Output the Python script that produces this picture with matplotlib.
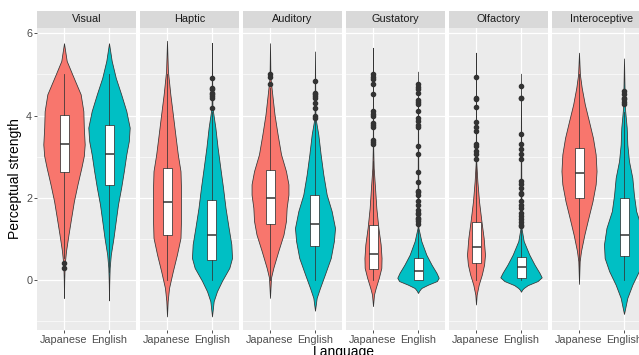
import matplotlib
matplotlib.use("Agg")
import matplotlib.pyplot as plt
from matplotlib.patches import Rectangle

plt.rcParams["font.family"] = ["Liberation Sans", "DejaVu Sans"]

modalities = ["Visual", "Haptic", "Auditory", "Gustatory", "Olfactory", "Interoceptive"]
languages = ["Japanese", "English"]
language_colors = ["#F8766D", "#00BFC4"]
y_ticks = [0, 2, 4, 6]
y_minor_ticks = [-1, 1, 3, 5]

# Violin outlines: strength levels (bottom to top) and half-widths in category units
visual_ja_y = [-0.43, -0.02, 0.38, 0.71, 1.11, 1.52, 1.92, 2.33, 2.73, 3.02, 3.30, 3.71, 4.11, 4.52, 5.00, 5.33, 5.76]
visual_ja_w = [0, 0.005, 0.015, 0.045, 0.10, 0.16, 0.22, 0.30, 0.385, 0.44, 0.46, 0.44, 0.43, 0.37, 0.185, 0.06, 0]
visual_en_y = [-0.49, -0.10, 0.30, 0.62, 1.03, 1.44, 1.84, 2.25, 2.65, 3.06, 3.38, 3.71, 4.11, 4.52, 4.92, 5.33, 5.76]
visual_en_w = [0, 0.005, 0.015, 0.04, 0.10, 0.15, 0.20, 0.27, 0.33, 0.385, 0.44, 0.46, 0.385, 0.27, 0.15, 0.06, 0]

haptic_ja_y = [-0.88, -0.51, -0.19, 0.22, 0.62, 1.03, 1.44, 1.84, 2.25, 2.65, 3.06, 3.54, 4.03, 4.52, 5.09, 5.82]
haptic_ja_w = [0, 0.015, 0.045, 0.13, 0.22, 0.30, 0.31, 0.31, 0.31, 0.30, 0.24, 0.185, 0.13, 0.074, 0.02, 0]
haptic_en_y = [-0.88, -0.51, -0.27, -0.02, 0.30, 0.54, 0.87, 1.27, 1.76, 2.25, 2.73, 3.22, 3.71, 4.19, 4.90, 5.77]
haptic_en_w = [0, 0.037, 0.11, 0.22, 0.385, 0.445, 0.43, 0.37, 0.30, 0.245, 0.185, 0.125, 0.075, 0.01, 0.004, 0]

auditory_ja_y = [-0.43, 0.06, 0.30, 0.71, 1.11, 1.44, 1.76, 2.08, 2.33, 2.65, 3.06, 3.54, 4.03, 4.52, 4.92, 5.76]
auditory_ja_w = [0, 0.022, 0.074, 0.185, 0.30, 0.355, 0.37, 0.41, 0.41, 0.355, 0.245, 0.17, 0.10, 0.05, 0.01, 0]
auditory_en_y = [-0.74, -0.43, -0.19, 0.14, 0.54, 0.95, 1.27, 1.68, 2.08, 2.57, 3.06, 3.54, 3.95, 5.56]
auditory_en_w = [0, 0.037, 0.11, 0.22, 0.35, 0.42, 0.445, 0.37, 0.26, 0.185, 0.125, 0.074, 0.01, 0]

gustatory_ja_y = [-0.63, -0.35, -0.19, 0.06, 0.30, 0.54, 0.87, 1.27, 1.76, 2.25, 2.73, 3.22, 5.65]
gustatory_ja_w = [0, 0.022, 0.06, 0.13, 0.185, 0.19, 0.17, 0.12, 0.074, 0.045, 0.015, 0.005, 0]
gustatory_en_y = [-0.31, -0.25, -0.19, -0.11, -0.02, 0.06, 0.18, 0.38, 0.62, 0.95, 1.27, 5.07]
gustatory_en_w = [0, 0.03, 0.074, 0.22, 0.42, 0.46, 0.41, 0.30, 0.185, 0.074, 0.01, 0]

olfactory_ja_y = [-0.59, -0.35, -0.11, 0.14, 0.38, 0.62, 1.03, 1.44, 1.92, 2.41, 2.90, 5.53]
olfactory_ja_w = [0, 0.015, 0.06, 0.13, 0.18, 0.20, 0.17, 0.12, 0.067, 0.03, 0.005, 0]
olfactory_en_y = [-0.28, -0.23, -0.19, -0.12, -0.02, 0.07, 0.18, 0.38, 0.62, 0.95, 1.27, 5.02]
olfactory_en_w = [0, 0.025, 0.06, 0.15, 0.37, 0.46, 0.41, 0.30, 0.185, 0.06, 0.01, 0]

interoceptive_ja_y = [-0.09, 0.46, 0.71, 1.11, 1.52, 1.92, 2.33, 2.65, 3.06, 3.46, 3.87, 4.27, 4.68, 5.00, 5.53]
interoceptive_ja_w = [0, 0.015, 0.045, 0.12, 0.21, 0.30, 0.37, 0.39, 0.37, 0.31, 0.22, 0.13, 0.06, 0.02, 0]
interoceptive_en_y = [-0.82, -0.43, -0.11, 0.22, 0.54, 0.87, 1.27, 1.68, 2.08, 2.49, 2.90, 3.30, 3.71, 4.19, 5.39]
interoceptive_en_w = [0, 0.074, 0.185, 0.33, 0.43, 0.445, 0.39, 0.27, 0.22, 0.185, 0.11, 0.074, 0.06, 0.02, 0]

# Box summaries: [lower whisker, Q1, median, Q3, upper whisker]
visual_ja_box = [0.55, 2.63, 3.32, 4.01, 5.00]
visual_en_box = [0.20, 2.32, 3.07, 3.77, 5.00]
haptic_ja_box = [0.00, 1.09, 1.91, 2.73, 5.00]
haptic_en_box = [0.00, 0.48, 1.10, 1.95, 4.10]
auditory_ja_box = [0.00, 1.37, 2.00, 2.69, 4.67]
auditory_en_box = [0.00, 0.83, 1.37, 2.07, 3.90]
gustatory_ja_box = [0.00, 0.28, 0.64, 1.35, 2.90]
gustatory_en_box = [0.00, 0.00, 0.235, 0.54, 1.30]
olfactory_ja_box = [0.00, 0.41, 0.80, 1.41, 2.90]
olfactory_en_box = [0.00, 0.06, 0.32, 0.56, 1.28]
interoceptive_ja_box = [0.20, 2.00, 2.61, 3.22, 5.00]
interoceptive_en_box = [0.00, 0.58, 1.11, 2.00, 4.10]

# Outlying words
visual_ja_out = [0.30, 0.41]
visual_en_out = []
haptic_ja_out = []
haptic_en_out = [4.19, 4.44, 4.48, 4.52, 4.56, 4.64, 4.68, 4.91]
auditory_ja_out = [4.76, 4.93, 5.00]
auditory_en_out = [3.95, 3.99, 4.19, 4.31, 4.44, 4.48, 4.52, 4.56, 4.83]
gustatory_ja_out = [3.30, 3.36, 3.42, 3.72, 3.77, 3.83, 3.99, 4.05, 4.11, 4.52, 4.76, 4.88, 4.94, 5.00]
gustatory_en_out = [1.37, 1.44, 1.48, 1.52, 1.60, 1.64, 1.70, 1.84, 1.92, 2.08, 2.15, 2.18, 2.39, 2.64,
                    3.07, 3.26, 3.72, 3.77, 3.87, 3.95, 4.11, 4.29, 4.34, 4.37, 4.56, 4.64, 4.70, 4.76]
olfactory_ja_out = [2.94, 3.06, 3.14, 3.26, 3.32, 3.62, 3.72, 3.84, 4.22, 4.40, 4.44, 4.95]
olfactory_en_out = [1.31, 1.35, 1.41, 1.48, 1.56, 1.64, 1.76, 1.84, 1.92, 2.10, 2.12, 2.25, 2.33, 2.42,
                    2.94, 3.07, 3.18, 3.30, 3.56, 4.42, 4.44, 4.72]
interoceptive_ja_out = []
interoceptive_en_out = [4.29, 4.34, 4.40, 4.44, 4.52, 4.60]

violins = {
    "Visual": [(visual_ja_y, visual_ja_w), (visual_en_y, visual_en_w)],
    "Haptic": [(haptic_ja_y, haptic_ja_w), (haptic_en_y, haptic_en_w)],
    "Auditory": [(auditory_ja_y, auditory_ja_w), (auditory_en_y, auditory_en_w)],
    "Gustatory": [(gustatory_ja_y, gustatory_ja_w), (gustatory_en_y, gustatory_en_w)],
    "Olfactory": [(olfactory_ja_y, olfactory_ja_w), (olfactory_en_y, olfactory_en_w)],
    "Interoceptive": [(interoceptive_ja_y, interoceptive_ja_w), (interoceptive_en_y, interoceptive_en_w)],
}
boxes = {
    "Visual": [(visual_ja_box, visual_ja_out), (visual_en_box, visual_en_out)],
    "Haptic": [(haptic_ja_box, haptic_ja_out), (haptic_en_box, haptic_en_out)],
    "Auditory": [(auditory_ja_box, auditory_ja_out), (auditory_en_box, auditory_en_out)],
    "Gustatory": [(gustatory_ja_box, gustatory_ja_out), (gustatory_en_box, gustatory_en_out)],
    "Olfactory": [(olfactory_ja_box, olfactory_ja_out), (olfactory_en_box, olfactory_en_out)],
    "Interoceptive": [(interoceptive_ja_box, interoceptive_ja_out), (interoceptive_en_box, interoceptive_en_out)],
}

W, H = 639, 355
fig = plt.figure(figsize=(W / 100, H / 100), dpi=100)
fig.patch.set_facecolor("white")

panel_left0, panel_step, panel_w = 37, 103, 99
panel_top, panel_bottom, strip_top = 28, 330, 11
strip_h = (panel_top - strip_top) / (panel_bottom - panel_top)
ink = "#333333"

for i, mod in enumerate(modalities):
    left = (panel_left0 + i * panel_step) / W
    ax = fig.add_axes([left, (H - panel_bottom) / H, panel_w / W, (panel_bottom - panel_top) / H])
    ax.set_facecolor("#EBEBEB")
    ax.set_xlim(0.4, 2.6)
    ax.set_ylim(-1.21, 6.13)
    ax.set_yticks(y_ticks)
    ax.set_yticks(y_minor_ticks, minor=True)
    ax.set_xticks([1, 2])
    ax.set_xticklabels(languages)
    ax.grid(which="major", color="white", linewidth=0.9)
    ax.grid(which="minor", axis="y", color="white", linewidth=0.45)
    ax.set_axisbelow(True)
    for s in ax.spines.values():
        s.set_visible(False)
    ax.tick_params(which="minor", length=0)
    ax.tick_params(which="major", length=2.5, width=0.6, color=ink,
                   labelsize=7.8, labelcolor="#4D4D4D", pad=1)
    if i > 0:
        ax.tick_params(axis="y", which="both", length=0, labelleft=False)

    for j, col in enumerate(language_colors):
        ys, ws = violins[mod][j]
        pos = j + 1
        ax.fill_betweenx(ys, [pos - w for w in ws], [pos + w for w in ws],
                         facecolor=col, edgecolor=ink, linewidth=0.55, zorder=2)

    stats = []
    for box, out in boxes[mod]:
        lo, q1, med, q3, hi = box
        stats.append(dict(whislo=lo, q1=q1, med=med, q3=q3, whishi=hi, fliers=out))
    ax.bxp(stats, positions=[1, 2], widths=0.2, patch_artist=True, showcaps=False,
           manage_ticks=False,
           boxprops=dict(facecolor="white", edgecolor=ink, linewidth=0.55),
           medianprops=dict(color=ink, linewidth=1.1),
           whiskerprops=dict(color=ink, linewidth=0.55),
           flierprops=dict(marker="o", markersize=3, markerfacecolor=ink,
                           markeredgecolor=ink, linestyle="none"),
           zorder=3)

    ax.add_patch(Rectangle((0, 1), 1, strip_h, transform=ax.transAxes,
                           facecolor="#D9D9D9", edgecolor="none", clip_on=False))
    ax.text(0.5, 1 + strip_h / 2, mod, transform=ax.transAxes, ha="center", va="center",
            fontsize=7.8, color="#1A1A1A")

fig.text(15 / W, 1 - 179 / H, "Perceptual strength", rotation=90,
         ha="center", va="center", fontsize=10, color="black")
fig.text(344 / W, (H - 356) / H, "Language", ha="center", va="baseline",
         fontsize=10, color="black")

fig.savefig("out.png", dpi=100)
